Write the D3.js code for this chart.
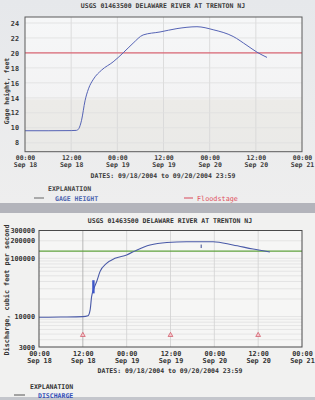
<!DOCTYPE html>
<html><head><meta charset="utf-8">
<script src="https://cdn.jsdelivr.net/npm/d3@7"></script>
<style>
html,body{margin:0;padding:0;background:#eceef0;}
svg{display:block;}
text{font-family:"DejaVu Sans Mono",monospace;font-weight:bold;}
</style></head>
<body><svg id="c" width="315" height="400"></svg>
<script>
// ---- data ----
const titleText = "USGS 01463500 DELAWARE RIVER AT TRENTON NJ";
const datesText = "DATES: 09/18/2004 to 09/20/2004 23:59";
const tickHours = [0, 12, 24, 36, 48, 60, 72];
const tickTimes = ["00:00", "12:00", "00:00", "12:00", "00:00", "12:00", "00:00"];
const tickDays = ["Sep 18", "Sep 18", "Sep 19", "Sep 19", "Sep 20", "Sep 20", "Sep 21"];

// gage height (hours since 09/18 00:00, feet)
const gageHours = [0, 6, 12, 13.4, 14.0, 14.7, 15.6, 16.5, 17.8, 19.9, 22.9, 25.5, 28.1, 30.7, 35.1, 39.5, 44.7, 48.9, 54.1, 57.7, 60.3, 62.9];
const gageFeet  = [9.6, 9.6, 9.62, 9.65, 9.9, 11.0, 13.6, 15.2, 16.5, 17.7, 18.8, 20.0, 21.3, 22.4, 22.8, 23.25, 23.5, 23.1, 22.2, 21.0, 20.1, 19.4];
const gageTicks = [8, 10, 12, 14, 16, 18, 20, 22, 24];
const floodStage = 20;

// discharge (hours, cfs)
const qHours = [0, 6, 12, 13.4, 14.0, 14.4, 15.0, 15.8, 16.7, 18.5, 20.8, 24.0, 26.7, 30.4, 35.0, 40.4, 47.7, 53.1, 58.6, 63.2];
const qCfs   = [9700, 9800, 9950, 10300, 13000, 22000, 30000, 40000, 59000, 82000, 100000, 114000, 138000, 169000, 187000, 192000, 192000, 169000, 144000, 128000];
const spikeHours = [14.9, 44.4];
const spikeLo = [25000, 150000];
const spikeHi = [42000, 172000];
const qTicks = [3000, 10000, 100000, 200000, 300000];
const qTickLabels = ["3000", "10000", "100000", "200000", "300000"];
const floodQ = 133000;
const measHours = [12, 36, 60];
const measCfs = [4800, 4800, 4800];

// ---- drawing ----
const svg = d3.select("#c");
const defs = svg.append("defs");
const g1 = defs.append("linearGradient").attr("id","bg1").attr("x1",0).attr("x2",0).attr("y1",0).attr("y2",1);
g1.append("stop").attr("offset","0").attr("stop-color","#e6e8eb");
g1.append("stop").attr("offset","1").attr("stop-color","#eeeeee");
const g2 = defs.append("linearGradient").attr("id","pf1").attr("x1",0).attr("x2",0).attr("y1",0).attr("y2",1);
g2.append("stop").attr("offset","0").attr("stop-color","#f6f7f8");
g2.append("stop").attr("offset","0.6").attr("stop-color","#f3f3f4");
g2.append("stop").attr("offset","0.62").attr("stop-color","#ecebe8");
g2.append("stop").attr("offset","1").attr("stop-color","#eaeae8");

svg.append("rect").attr("x",0).attr("y",0).attr("width",315).attr("height",203).attr("fill","url(#bg1)");
svg.append("rect").attr("x",0).attr("y",203).attr("width",315).attr("height",10).attr("fill","#b3b4bb");
svg.append("rect").attr("x",0).attr("y",213).attr("width",315).attr("height",184).attr("fill","#f1f1f0");
svg.append("rect").attr("x",0).attr("y",397).attr("width",315).attr("height",3).attr("fill","#c4c6cc");

const textCol = "#3a3a3a";
const blue = "#5563b5";
const red = "#d8485a";
const green = "#5fa23c";

// ===== top chart =====
const x1 = d3.scaleLinear().domain([0, 72]).range([25, 302]);
const y1 = d3.scaleLinear().domain([6.8, 24.8]).range([151.7, 17]);
const topG = svg.append("g");
topG.append("rect").attr("x",x1(0)).attr("y",y1(24.8)).attr("width",x1(72)-x1(0)).attr("height",y1(6.8)-y1(24.8)).attr("fill","url(#pf1)");
topG.selectAll("line.vg").data(tickHours.slice(1,-1)).join("line")
  .attr("x1",d=>x1(d)).attr("x2",d=>x1(d)).attr("y1",y1(24.8)).attr("y2",y1(6.8))
  .attr("stroke","#d6d6d6").attr("stroke-width",0.8);
topG.selectAll("line.hg").data(gageTicks).join("line")
  .attr("x1",x1(0)).attr("x2",x1(72)).attr("y1",d=>y1(d)).attr("y2",d=>y1(d))
  .attr("stroke","#e0e0e0").attr("stroke-width",0.8);
topG.append("line").attr("x1",x1(0)).attr("x2",x1(72)).attr("y1",y1(floodStage)).attr("y2",y1(floodStage))
  .attr("stroke",red).attr("stroke-width",1);
topG.append("path").datum(gageHours.map((h,i)=>[h,gageFeet[i]]))
  .attr("d", d3.line().x(d=>x1(d[0])).y(d=>y1(d[1])).curve(d3.curveMonotoneX))
  .attr("fill","none").attr("stroke",blue).attr("stroke-width",1);
topG.append("rect").attr("x",x1(0)).attr("y",y1(24.8)).attr("width",x1(72)-x1(0)).attr("height",y1(6.8)-y1(24.8))
  .attr("fill","none").attr("stroke","#5a5a5a").attr("stroke-width",1);
// y axis
const ya1 = topG.append("g").attr("transform",`translate(${x1(0)},0)`)
  .call(d3.axisLeft(y1).tickValues(gageTicks).tickSize(0).tickPadding(6).tickFormat(d3.format("d")));
ya1.select(".domain").remove();
ya1.selectAll("text").attr("font-size",6.8).attr("fill",textCol).style("font-family","DejaVu Sans Mono");
// x axis
const xa1 = topG.append("g").attr("transform",`translate(0,${y1(6.8)})`)
  .call(d3.axisBottom(x1).tickValues(tickHours).tickSize(0).tickFormat(""));
xa1.select(".domain").remove();
xa1.selectAll(".tick").each(function(d,i){
  const t = d3.select(this).select("text");
  t.attr("font-size",6.5).attr("fill",textCol).attr("y",0).attr("dy",0).style("font-family","DejaVu Sans Mono");
  t.append("tspan").attr("x",0).attr("y",8.5).text(tickTimes[i]);
  t.append("tspan").attr("x",0).attr("y",15.5).text(tickDays[i]);
});
topG.append("text").attr("x",163).attr("y",8).attr("text-anchor","middle").attr("font-size",6.5).attr("fill",textCol).text(titleText);
topG.append("text").attr("x",163).attr("y",177.5).attr("text-anchor","middle").attr("font-size",6.5).attr("fill",textCol).text(datesText);
topG.append("text").attr("transform","translate(8.5,91) rotate(-90)").attr("text-anchor","middle").attr("font-size",6.5).attr("fill",textCol).text("Gage height, feet");
topG.append("text").attr("x",48).attr("y",191).attr("font-size",6.5).attr("fill","#444").text("EXPLANATION");
topG.append("line").attr("x1",34).attr("x2",44).attr("y1",198).attr("y2",198).attr("stroke","#666").attr("stroke-width",1);
topG.append("text").attr("x",55).attr("y",200.5).attr("font-size",6.5).attr("fill","#4d66b0").text("GAGE HEIGHT");
topG.append("line").attr("x1",184).attr("x2",193).attr("y1",198).attr("y2",198).attr("stroke",red).attr("stroke-width",1);
topG.append("text").attr("x",197).attr("y",200.5).attr("font-size",6.8).attr("fill","#e05060").style("font-weight","normal").text("Floodstage");

// ===== bottom chart =====
const x2 = d3.scaleLinear().domain([0, 72]).range([39, 302]);
const y2 = d3.scaleLog().domain([3000, 300000]).range([347, 230.5]);
const botG = svg.append("g");
botG.append("rect").attr("x",x2(0)).attr("y",y2(300000)).attr("width",x2(72)-x2(0)).attr("height",y2(3000)-y2(300000)).attr("fill","#f6f6f5");
const minor = y2.ticks(30).filter(v=>v>3000 && v<300000);
botG.selectAll("line.hg").data(minor).join("line")
  .attr("x1",x2(0)).attr("x2",x2(72)).attr("y1",d=>y2(d)).attr("y2",d=>y2(d))
  .attr("stroke","#dcdcdc").attr("stroke-width",0.7);
botG.selectAll("line.vg").data(tickHours.slice(1,-1)).join("line")
  .attr("x1",d=>x2(d)).attr("x2",d=>x2(d)).attr("y1",y2(300000)).attr("y2",y2(3000))
  .attr("stroke",(d,i)=>i===0?"#aaaaaa":"#d0d0d0").attr("stroke-width",0.8);
botG.append("line").attr("x1",x2(0)).attr("x2",x2(72)).attr("y1",y2(floodQ)).attr("y2",y2(floodQ))
  .attr("stroke",green).attr("stroke-width",1.1);
botG.append("path").datum(qHours.map((h,i)=>[h,qCfs[i]]))
  .attr("d", d3.line().x(d=>x2(d[0])).y(d=>y2(d[1])).curve(d3.curveMonotoneX))
  .attr("fill","none").attr("stroke","#4a5aa8").attr("stroke-width",1.1);
botG.selectAll("line.sp").data(spikeHours).join("line")
  .attr("x1",d=>x2(d)).attr("x2",d=>x2(d)).attr("y1",(d,i)=>y2(spikeLo[i])).attr("y2",(d,i)=>y2(spikeHi[i]))
  .attr("stroke",(d,i)=>i===0?"#3c55c8":"#3b4a90").attr("stroke-width",(d,i)=>i===0?2.4:1);
botG.selectAll("path.tri").data(measHours).join("path")
  .attr("transform",(d,i)=>`translate(${x2(d)},${y2(measCfs[i])})`)
  .attr("d", d3.symbol().type(d3.symbolTriangle).size(10))
  .attr("fill","#f4c8cc").attr("stroke","#d05060").attr("stroke-width",0.7);
botG.append("rect").attr("x",x2(0)).attr("y",y2(300000)).attr("width",x2(72)-x2(0)).attr("height",y2(3000)-y2(300000))
  .attr("fill","none").attr("stroke","#4a4a4a").attr("stroke-width",1);
const ya2 = botG.append("g").attr("transform",`translate(${x2(0)},0)`)
  .call(d3.axisLeft(y2).tickValues(qTicks).tickSize(0).tickPadding(4).tickFormat((d,i)=>qTickLabels[i]));
ya2.select(".domain").remove();
ya2.selectAll("text").attr("font-size",6.8).attr("fill","#333").style("font-family","DejaVu Sans Mono");
const xa2 = botG.append("g").attr("transform",`translate(0,${y2(3000)})`)
  .call(d3.axisBottom(x2).tickValues(tickHours).tickSize(0).tickFormat(""));
xa2.select(".domain").remove();
xa2.selectAll(".tick").each(function(d,i){
  const t = d3.select(this).select("text");
  t.attr("font-size",6.8).attr("fill","#333").attr("y",0).attr("dy",0).style("font-family","DejaVu Sans Mono");
  t.append("tspan").attr("x",0).attr("y",8.5).text(tickTimes[i]);
  t.append("tspan").attr("x",0).attr("y",16).text(tickDays[i]);
});
botG.append("text").attr("x",170).attr("y",222.5).attr("text-anchor","middle").attr("font-size",6.5).attr("fill","#333").text(titleText);
botG.append("text").attr("x",170).attr("y",373).attr("text-anchor","middle").attr("font-size",6.5).attr("fill","#333").text(datesText);
botG.append("text").attr("transform","translate(8.5,290) rotate(-90)").attr("text-anchor","middle").attr("font-size",6.8).attr("fill","#333").text("Discharge, cubic feet per second");
botG.append("text").attr("x",30).attr("y",388.5).attr("font-size",6.5).attr("fill","#333").text("EXPLANATION");
botG.append("line").attr("x1",14).attr("x2",25).attr("y1",395).attr("y2",395).attr("stroke","#555").attr("stroke-width",1);
botG.append("text").attr("x",38).attr("y",397.5).attr("font-size",6.5).attr("fill","#3450b8").text("DISCHARGE");
</script>
</body></html>
